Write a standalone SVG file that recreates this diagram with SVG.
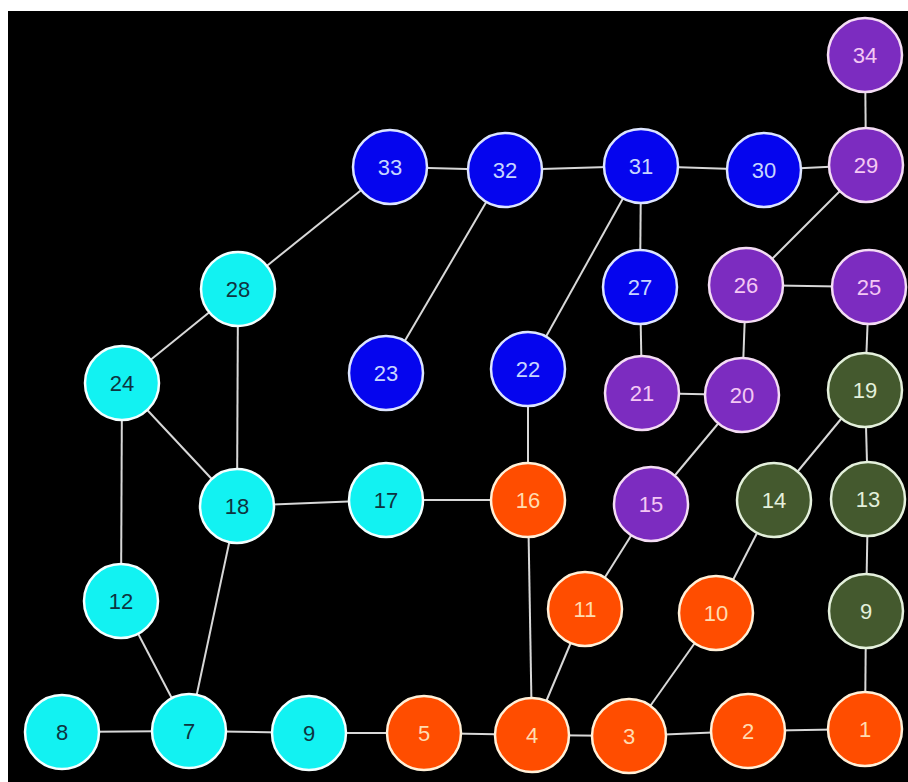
<svg xmlns="http://www.w3.org/2000/svg" width="908" height="782" viewBox="0 0 908 782">
  <style>
    .edge { stroke: #d8d8d8; stroke-width: 2; fill: none; }
    .node circle { stroke-width: 2.5; }
    .node text { font-family: "Liberation Sans", Arial, sans-serif; font-size: 22px; text-anchor: middle; dominant-baseline: central; }
    .cyan circle { fill: #12f2f2; stroke: #f4ffff; }
    .cyan text { fill: #0e3440; }
    .blue circle { fill: #0505ee; stroke: #dce4ff; }
    .blue text { fill: #c8d6ff; }
    .purple circle { fill: #7c2cc0; stroke: #f4dcf4; }
    .purple text { fill: #f4c8f4; }
    .green circle { fill: #44592e; stroke: #e4f0dc; }
    .green text { fill: #e4f0dc; }
    .orange circle { fill: #ff4d00; stroke: #fff0d8; }
    .orange text { fill: #ffdcb0; }
  </style>
  <rect x="0" y="0" width="908" height="782" fill="#ffffff"/>
  <rect x="8" y="11" width="900" height="771" fill="#000000"/>

  <g id="connectors">
    <line class="edge" x1="865" y1="55" x2="866" y2="165"/>
    <line class="edge" x1="390" y1="167" x2="505" y2="170"/>
    <line class="edge" x1="505" y1="170" x2="641" y2="166"/>
    <line class="edge" x1="641" y1="166" x2="764" y2="170"/>
    <line class="edge" x1="764" y1="170" x2="866" y2="165"/>
    <line class="edge" x1="390" y1="167" x2="238" y2="289"/>
    <line class="edge" x1="505" y1="170" x2="386" y2="373"/>
    <line class="edge" x1="641" y1="166" x2="528" y2="369"/>
    <line class="edge" x1="641" y1="166" x2="640" y2="287"/>
    <line class="edge" x1="866" y1="165" x2="746" y2="285"/>
    <line class="edge" x1="746" y1="285" x2="869" y2="287"/>
    <line class="edge" x1="640" y1="287" x2="642" y2="393"/>
    <line class="edge" x1="746" y1="285" x2="742" y2="395"/>
    <line class="edge" x1="642" y1="393" x2="742" y2="395"/>
    <line class="edge" x1="869" y1="287" x2="865" y2="390"/>
    <line class="edge" x1="238" y1="289" x2="122" y2="383"/>
    <line class="edge" x1="238" y1="289" x2="237" y2="506"/>
    <line class="edge" x1="122" y1="383" x2="237" y2="506"/>
    <line class="edge" x1="122" y1="383" x2="121" y2="601"/>
    <line class="edge" x1="528" y1="369" x2="528" y2="500"/>
    <line class="edge" x1="742" y1="395" x2="651" y2="504"/>
    <line class="edge" x1="865" y1="390" x2="774" y2="500"/>
    <line class="edge" x1="865" y1="390" x2="868" y2="499"/>
    <line class="edge" x1="237" y1="506" x2="386" y2="500"/>
    <line class="edge" x1="386" y1="500" x2="528" y2="500"/>
    <line class="edge" x1="237" y1="506" x2="189" y2="731"/>
    <line class="edge" x1="121" y1="601" x2="189" y2="731"/>
    <line class="edge" x1="528" y1="500" x2="532" y2="735"/>
    <line class="edge" x1="651" y1="504" x2="585" y2="609"/>
    <line class="edge" x1="774" y1="500" x2="716" y2="613"/>
    <line class="edge" x1="868" y1="499" x2="866" y2="611"/>
    <line class="edge" x1="585" y1="609" x2="532" y2="735"/>
    <line class="edge" x1="716" y1="613" x2="629" y2="736"/>
    <line class="edge" x1="866" y1="611" x2="865" y2="729"/>
    <line class="edge" x1="62" y1="732" x2="189" y2="731"/>
    <line class="edge" x1="189" y1="731" x2="309" y2="733"/>
    <line class="edge" x1="309" y1="733" x2="424" y2="733"/>
    <line class="edge" x1="424" y1="733" x2="532" y2="735"/>
    <line class="edge" x1="532" y1="735" x2="629" y2="736"/>
    <line class="edge" x1="629" y1="736" x2="748" y2="731"/>
    <line class="edge" x1="748" y1="731" x2="865" y2="729"/>
  </g>

  <g id="n34" class="node purple"><circle cx="865" cy="55" r="37"/><text x="865" y="55">34</text></g>
  <g id="n33" class="node blue"><circle cx="390" cy="167" r="37"/><text x="390" y="167">33</text></g>
  <g id="n32" class="node blue"><circle cx="505" cy="170" r="37"/><text x="505" y="170">32</text></g>
  <g id="n31" class="node blue"><circle cx="641" cy="166" r="37"/><text x="641" y="166">31</text></g>
  <g id="n30" class="node blue"><circle cx="764" cy="170" r="37"/><text x="764" y="170">30</text></g>
  <g id="n29" class="node purple"><circle cx="866" cy="165" r="37"/><text x="866" y="165">29</text></g>
  <g id="n28" class="node cyan"><circle cx="238" cy="289" r="37"/><text x="238" y="289">28</text></g>
  <g id="n27" class="node blue"><circle cx="640" cy="287" r="37"/><text x="640" y="287">27</text></g>
  <g id="n26" class="node purple"><circle cx="746" cy="285" r="37"/><text x="746" y="285">26</text></g>
  <g id="n25" class="node purple"><circle cx="869" cy="287" r="37"/><text x="869" y="287">25</text></g>
  <g id="n24" class="node cyan"><circle cx="122" cy="383" r="37"/><text x="122" y="383">24</text></g>
  <g id="n23" class="node blue"><circle cx="386" cy="373" r="37"/><text x="386" y="373">23</text></g>
  <g id="n22" class="node blue"><circle cx="528" cy="369" r="37"/><text x="528" y="369">22</text></g>
  <g id="n21" class="node purple"><circle cx="642" cy="393" r="37"/><text x="642" y="393">21</text></g>
  <g id="n20" class="node purple"><circle cx="742" cy="395" r="37"/><text x="742" y="395">20</text></g>
  <g id="n19" class="node green"><circle cx="865" cy="390" r="37"/><text x="865" y="390">19</text></g>
  <g id="n18" class="node cyan"><circle cx="237" cy="506" r="37"/><text x="237" y="506">18</text></g>
  <g id="n17" class="node cyan"><circle cx="386" cy="500" r="37"/><text x="386" y="500">17</text></g>
  <g id="n16" class="node orange"><circle cx="528" cy="500" r="37"/><text x="528" y="500">16</text></g>
  <g id="n15" class="node purple"><circle cx="651" cy="504" r="37"/><text x="651" y="504">15</text></g>
  <g id="n14" class="node green"><circle cx="774" cy="500" r="37"/><text x="774" y="500">14</text></g>
  <g id="n13" class="node green"><circle cx="868" cy="499" r="37"/><text x="868" y="499">13</text></g>
  <g id="n12" class="node cyan"><circle cx="121" cy="601" r="37"/><text x="121" y="601">12</text></g>
  <g id="n11" class="node orange"><circle cx="585" cy="609" r="37"/><text x="585" y="609">11</text></g>
  <g id="n10" class="node orange"><circle cx="716" cy="613" r="37"/><text x="716" y="613">10</text></g>
  <g id="n9b" class="node green"><circle cx="866" cy="611" r="37"/><text x="866" y="611">9</text></g>
  <g id="n8" class="node cyan"><circle cx="62" cy="732" r="37"/><text x="62" y="732">8</text></g>
  <g id="n7" class="node cyan"><circle cx="189" cy="731" r="37"/><text x="189" y="731">7</text></g>
  <g id="n9a" class="node cyan"><circle cx="309" cy="733" r="37"/><text x="309" y="733">9</text></g>
  <g id="n5" class="node orange"><circle cx="424" cy="733" r="37"/><text x="424" y="733">5</text></g>
  <g id="n4" class="node orange"><circle cx="532" cy="735" r="37"/><text x="532" y="735">4</text></g>
  <g id="n3" class="node orange"><circle cx="629" cy="736" r="37"/><text x="629" y="736">3</text></g>
  <g id="n2" class="node orange"><circle cx="748" cy="731" r="37"/><text x="748" y="731">2</text></g>
  <g id="n1" class="node orange"><circle cx="865" cy="729" r="37"/><text x="865" y="729">1</text></g>
</svg>
